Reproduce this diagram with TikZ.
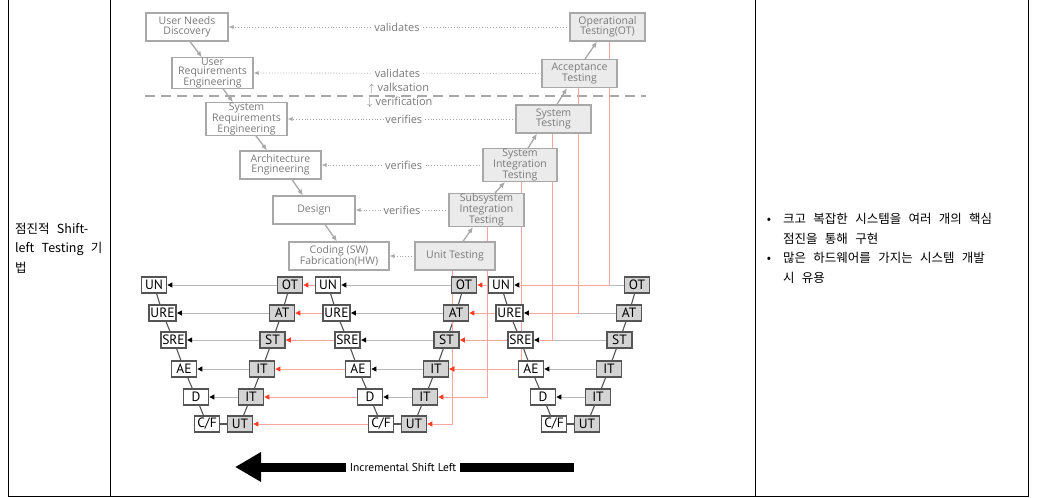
\documentclass[tikz,border=0pt]{standalone}
\usepackage{fontspec}
\setmainfont{Open Sans}
\newfontfamily\kr[WordSpace=2.6]{Noto Sans CJK KR}
\newfontfamily\vf{Open Sans}
\newfontfamily\lf{PT Sans}
\usetikzlibrary{arrows.meta,backgrounds}
\pgfdeclarelayer{bottom}
\pgfsetlayers{bottom,background,main}
\definecolor{tgray}{HTML}{7A7A7A}
\definecolor{bgray}{HTML}{A8A8A8}
\definecolor{tfill}{HTML}{EBEBEB}
\definecolor{lbord}{HTML}{555555}
\definecolor{lfill}{HTML}{D4D4D4}
\definecolor{rline}{HTML}{F4A6A0}
\definecolor{rarrow}{HTML}{FF3B22}
\definecolor{hline}{HTML}{B8B8B8}
\newcommand\lowV[2]{%
 \node[dev] (#1un)  at ({#2+154},285) {UN};
 \node[dev] (#1ure) at ({#2+162.5},313) {URE};
 \node[dev] (#1sre) at ({#2+173.5},340) {SRE};
 \node[dev] (#1ae)  at ({#2+184},369) {AE};
 \node[dev] (#1d)   at ({#2+196},397) {D};
 \node[dev] (#1cf)  at ({#2+207},424) {C/F};
 \node[tst] (#1ut)  at ({#2+240},424) {UT};
 \node[tst] (#1itl) at ({#2+251},397) {IT};
 \node[tst] (#1itu) at ({#2+262},369) {IT};
 \node[tst] (#1st)  at ({#2+272.5},340) {ST};
 \node[tst] (#1at)  at ({#2+282},313) {AT};
 \node[tst] (#1ot)  at ({#2+290},285) {OT};
}
\newcommand\lowVcon[1]{%
 \draw[vcon] (#1un) edge (#1ure) (#1ure) edge (#1sre) (#1sre) edge (#1ae)
   (#1ae) edge (#1d) (#1d) edge (#1cf) (#1cf) edge (#1ut) (#1ut) edge (#1itl)
   (#1itl) edge (#1itu) (#1itu) edge (#1st) (#1st) edge (#1at) (#1at) edge (#1ot);
 \draw[gcon] (#1ot.west) -- (#1un.east);
 \draw[gcon] (#1at.west) -- (#1ure.east);
 \draw[gcon] (#1st.west) -- (#1sre.east);
 \draw[gcon] (#1itu.west) -- (#1ae.east);
 \draw[gcon] (#1itl.west) -- (#1d.east);
}
\begin{document}
\begin{tikzpicture}[x=1pt,y=-1pt,
 topbox/.style={draw=bgray, line width=1.1pt, fill=white, text=tgray,
   font=\vf\fontsize{10.5}{10.5}\selectfont, align=center, inner sep=0pt, minimum height=28pt},
 topbox3/.style={topbox, font=\vf\fontsize{10.5}{9}\selectfont},
 toptest/.style={topbox, fill=tfill},
 toptest3/.style={topbox3, fill=tfill},
 varr/.style={draw=bgray, line width=1.3pt, -{Latex[length=6pt,width=5pt]}},
 dotl/.style={draw=bgray, dotted, line width=0.8pt, -{Latex[length=5pt,width=4pt]}},
 lbl/.style={fill=white, text=tgray, font=\vf\fontsize{11}{11}\selectfont, inner sep=1.5pt},
 dev/.style={draw=lbord, line width=1.7pt, fill=white, text=black,
   font=\lf\fontsize{13.5}{13.5}\selectfont, minimum width=25pt, minimum height=16pt,
   inner ysep=0.6pt, inner xsep=1.6pt},
 tst/.style={dev, fill=lfill},
 vcon/.style={draw=lbord, line width=1.1pt},
 gcon/.style={draw=hline, line width=1pt, -{Triangle[length=5pt,width=5pt,color=black]}},
 rcon/.style={draw=rline, line width=0.9pt, -{Triangle[length=5pt,width=5pt,color=rarrow]}},
 rvert/.style={draw=rline, line width=0.9pt},
 krtext/.style={font=\kr\fontsize{12.5}{12.5}\selectfont, inner sep=0pt, text=black}
]
\begin{pgfonlayer}{bottom}
\fill[white] (0,0) rectangle (1037,498);
\end{pgfonlayer}
\useasboundingbox (0,0) rectangle (1037,498);
% table
\draw[black, line width=1pt] (8,0) -- (8,496) -- (1028,496) -- (1028,0);
\draw[black, line width=1pt] (110,0) -- (110,496);
\draw[black, line width=1pt] (755,0) -- (755,496);
\node[krtext, anchor=base west] (l1) at (15,233) {점진적 Shift-};
\node[krtext, anchor=base west] (l2) at (15,252.5) {left Testing 기};
\node[krtext, anchor=base west] (l3) at (15,272) {법};
\node[krtext, anchor=base] (bu1) at (769,223) {•};
\node[krtext, anchor=base west] (r1) at (783,223) {크고 복잡한 시스템을 여러 개의 핵심};
\node[krtext, anchor=base west] (r2) at (783,243) {점진을 통해 구현};
\node[krtext, anchor=base] (bu2) at (769,262) {•};
\node[krtext, anchor=base west] (r3) at (783,262) {많은 하드웨어를 가지는 시스템 개발};
\node[krtext, anchor=base west] (r4) at (783,282) {시 유용};
% top V
\node[topbox, minimum width=82pt] (tund) at (187,27) {User Needs\\Discovery};
\node[topbox3, minimum width=81pt] (ture) at (212.5,73) {User\\Requirements\\Engineering};
\node[topbox3, minimum width=81pt] (tsre) at (246.5,119) {System\\Requirements\\Engineering};
\node[topbox, minimum width=81pt] (tae) at (280.5,165) {Architecture\\Engineering};
\node[topbox, minimum width=82pt] (tdes) at (314,210) {Design};
\node[topbox, minimum width=100pt] (tcod) at (339,256) {Coding (SW)\\Fabrication(HW)};
\node[toptest, minimum width=80pt] (tut) at (455,256) {Unit Testing};
\node[toptest3, minimum width=75pt] (tsub) at (486.5,210) {Subsystem\\Integration\\Testing};
\node[toptest3, minimum width=74pt] (tsit) at (520,165) {System\\Integration\\Testing};
\node[toptest, minimum width=75pt] (tst) at (553.5,119) {System\\Testing};
\node[toptest, minimum width=75pt] (tat) at (579.5,73.5) {Acceptance\\Testing};
\node[toptest, minimum width=75pt] (tot) at (607.5,27) {Operational\\Testing(OT)};
\node[lbl, fill=none, anchor=west, inner sep=0pt] (vup) at (369,88) {$\uparrow$ valksation};
\node[lbl, fill=none, anchor=west, inner sep=0pt] (vdn) at (367,102.5) {$\downarrow$ verification};
% lower Vs
\lowV{a}{0}
\lowV{b}{174}
\lowV{c}{347}
% shift left arrow
\node[font=\lf\fontsize{11.5}{11.5}\selectfont, inner sep=4pt] (isl) at (403,467) {Incremental Shift Left};
\coordinate (tip) at (235,467);
\coordinate (barR) at (574,467);
\draw[line width=9pt, -{Triangle[length=26pt,width=28pt]}] (isl.west) -- (tip);
\draw[line width=9pt] (isl.east) -- (barR);
\begin{scope}[on background layer]
 \draw[bgray, line width=1.2pt, dash pattern=on 10pt off 6pt] (145,96) -- (646,96);
 % V arrows
 \draw[varr] ([xshift=3pt]tund.south) -- ([xshift=-10.5pt]ture.north);
 \draw[varr] ([xshift=10.5pt]ture.south) -- ([xshift=-13.5pt]tsre.north);
 \draw[varr] ([xshift=9.5pt]tsre.south) -- ([xshift=-13.5pt]tae.north);
 \draw[varr] ([xshift=11.5pt]tae.south) -- ([xshift=-11pt]tdes.north);
 \draw[varr] ([xshift=11pt]tdes.south) -- ([xshift=-2pt]tcod.north);
 \draw[varr] ([xshift=8pt]tut.north) -- ([xshift=-13.5pt]tsub.south);
 \draw[varr] ([xshift=8.5pt]tsub.north) -- ([xshift=-15pt]tsit.south);
 \draw[varr] ([xshift=8pt]tsit.north) -- ([xshift=-16.5pt]tst.south);
 \draw[varr] ([xshift=3.5pt]tst.north) -- ([xshift=-12.5pt]tat.south);
 \draw[varr] ([xshift=5.5pt]tat.north) -- ([xshift=-10.5pt]tot.south);
 % dotted validation lines
 \draw[dotl] (tot.west) -- node[lbl, pos=0.506] (lv1) {validates} (tund.east);
 \draw[dotl] (tat.west) -- node[lbl, pos=0.50] (lv2) {validates} (ture.east);
 \draw[dotl] (tst.west) -- node[lbl, pos=0.49] (lv3) {verifies} (tsre.east);
 \draw[dotl] (tsit.west) -- node[lbl, pos=0.49] (lv4) {verifies} (tae.east);
 \draw[dotl] (tsub.west) -- node[lbl, pos=0.5] (lv5) {verifies} (tdes.east);
 \draw[dotl] (tut.west) -- (tcod.east);
 % lower V connectors
 \lowVcon{a}
 \lowVcon{b}
 \lowVcon{c}
 % red links V2 -> V1
 \draw[rcon] (bun.west) -- (aot.east);
 \draw[rcon] (bure.west) -- (aat.east);
 \draw[rcon] (bsre.west) -- (ast.east);
 \draw[rcon] (bae.west) -- (aitu.east);
 \draw[rcon] (bd.west) -- (aitl.east);
 \draw[rcon] (bcf.west) -- (aut.east);
 % red links V3 -> V2
 \draw[rcon] (cun.west) -- (bot.east);
 \draw[rcon] (cure.west) -- (bat.east);
 \draw[rcon] (csre.west) -- (bst.east);
 \draw[rcon] (cae.west) -- (bitu.east);
 % red verticals from top V
 \draw[rcon] ([xshift=-3pt]tut.south) |- (but.east);
 \draw[rcon] ([xshift=0.5pt]tsub.south) |- (bitl.east);
 \draw[rcon] ([xshift=1pt]tsit.south) |- (bitu.east);
 \draw[rvert, shorten >=5pt] ([xshift=-1.5pt]tst.south) |- (csre.east);
 \draw[rvert, shorten >=5pt] ([xshift=-1.5pt]tat.south) |- (cure.east);
 \draw[rvert, shorten >=5pt] ([xshift=1.5pt]tot.south) |- (cun.east);
\end{scope}
\end{tikzpicture}
\end{document}
